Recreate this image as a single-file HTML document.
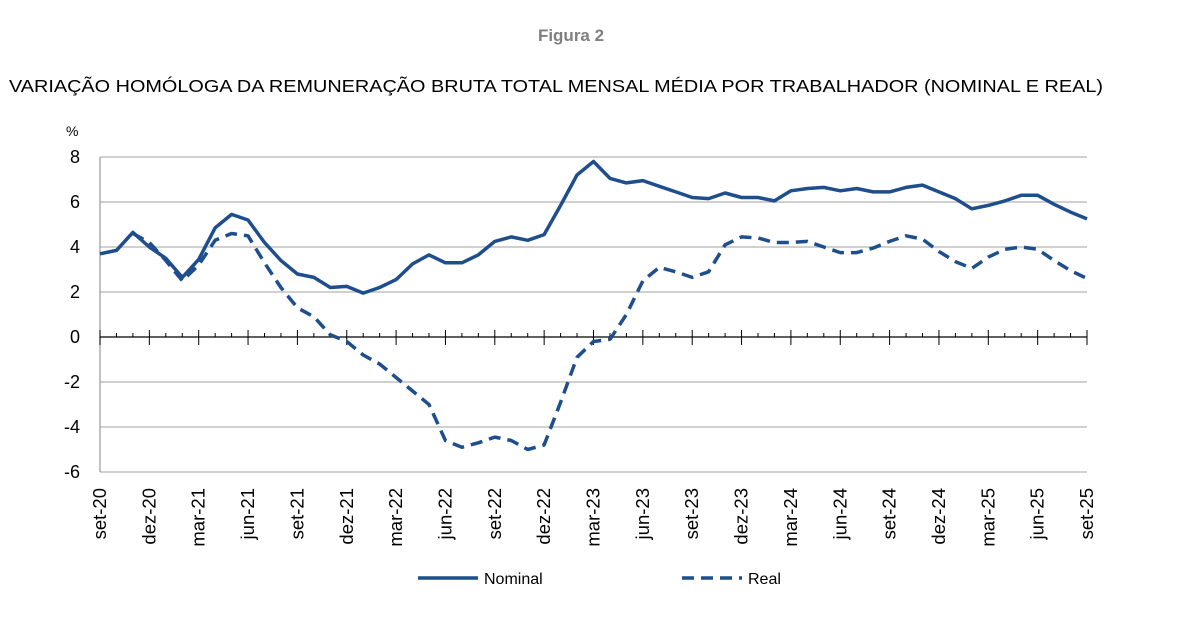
<!DOCTYPE html>
<html><head><meta charset="utf-8"><style>
body{margin:0;background:#fff;}
svg text{font-family:"Liberation Sans",sans-serif;}
</style></head><body>
<svg id="s" width="1200" height="630" xmlns="http://www.w3.org/2000/svg">
<text x="571" y="41" text-anchor="middle" font-size="17" font-weight="bold" fill="#7f7f7f">Figura 2</text>
<text x="556" y="92" text-anchor="middle" font-size="17.5" fill="#000" textLength="1094" lengthAdjust="spacingAndGlyphs">VARIAÇÃO HOMÓLOGA DA REMUNERAÇÃO BRUTA TOTAL MENSAL MÉDIA POR TRABALHADOR (NOMINAL E REAL)</text>
<text x="66" y="136" font-size="14" fill="#000">%</text>
<g id="g"></g>
<line x1="418" y1="578" x2="478" y2="578" stroke="#1f4e8c" stroke-width="3.5"/>
<text x="484" y="584" font-size="16">Nominal</text>
<line x1="682" y1="578" x2="742" y2="578" stroke="#1f4e8c" stroke-width="3.5" stroke-dasharray="12,7"/>
<text x="748" y="584" font-size="16">Real</text>
</svg>
<script>
var g=document.getElementById('g'),h='';
function Y(v){return 337-22.5*v;}
function X(i){return 100+16.45*i;}
for(var v=-6;v<=8;v+=2){
 if(v!=0)h+='<line x1="100" y1="'+Y(v)+'" x2="1087" y2="'+Y(v)+'" stroke="#c0c0c0" stroke-width="1.5"/>';
 h+='<text x="80" y="'+(Y(v)+6)+'" text-anchor="end" font-size="18">'+v+'</text>';
}
h+='<line x1="100" y1="157" x2="100" y2="472" stroke="#999" stroke-width="1.2"/>';
h+='<line x1="100" y1="337" x2="1087" y2="337" stroke="#000" stroke-width="1.3"/>';
var labs=['set','dez','mar','jun'];
for(var i=0;i<=60;i++){
 var big=i%3==0;
 h+='<line x1="'+X(i)+'" y1="'+(big?330:333)+'" x2="'+X(i)+'" y2="'+(big?345:337)+'" stroke="#000" stroke-width="1"/>';
 if(big){var yr=20+Math.floor((i+8)/12);
  var x=X(i)+6;
  h+='<text transform="translate('+x+',488) rotate(-90)" text-anchor="end" font-size="18.5">'+labs[(i/3)%4]+'-'+yr+'</text>';}
}
var nom=[3.7,3.85,4.65,4.0,3.5,2.65,3.45,4.85,5.45,5.2,4.2,3.4,2.8,2.65,2.2,2.25,1.95,2.2,2.55,3.25,3.65,3.3,3.3,3.65,4.25,4.45,4.3,4.55,5.85,7.2,7.8,7.05,6.85,6.95,6.7,6.45,6.2,6.15,6.4,6.2,6.2,6.05,6.5,6.6,6.65,6.5,6.6,6.45,6.45,6.65,6.75,6.45,6.15,5.7,5.85,6.05,6.3,6.3,5.9,5.55,5.25];
var real=[3.7,3.85,4.6,4.2,3.4,2.5,3.2,4.3,4.6,4.5,3.3,2.2,1.3,0.9,0.1,-0.2,-0.8,-1.2,-1.8,-2.4,-3.0,-4.6,-4.9,-4.7,-4.45,-4.6,-5.0,-4.8,-2.9,-0.9,-0.2,-0.1,1.0,2.5,3.1,2.9,2.65,2.9,4.1,4.45,4.4,4.2,4.2,4.25,4.0,3.75,3.75,3.95,4.25,4.5,4.35,3.8,3.35,3.05,3.55,3.9,4.0,3.9,3.4,2.95,2.6];
function pts(a,o){return a.map(function(v,i){return X(i+o).toFixed(1)+','+Y(v).toFixed(1)}).join(' ');}
h+='<polyline points="'+pts(real.slice(2),2)+'" fill="none" stroke="#1f4e8c" stroke-width="3.5" stroke-dasharray="12,7" stroke-linejoin="round"/>';
h+='<polyline points="'+pts(nom,0)+'" fill="none" stroke="#1f4e8c" stroke-width="3.5" stroke-linejoin="round"/>';
g.innerHTML=h;
</script>
</body></html>
